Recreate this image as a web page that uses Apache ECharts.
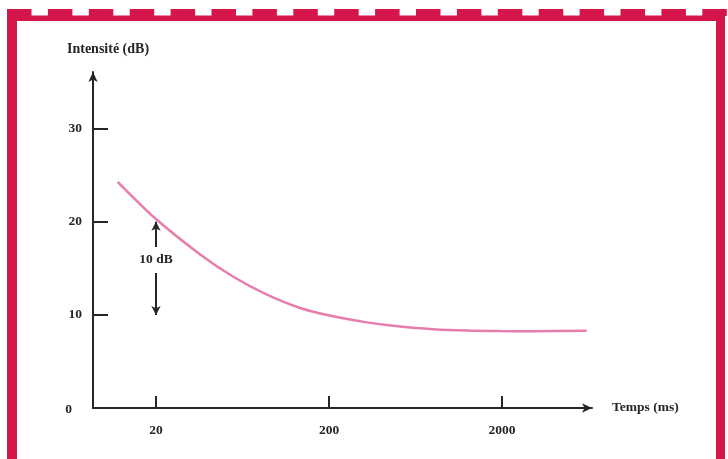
<!DOCTYPE html>
<html>
<head>
<meta charset="utf-8">
<script src="https://cdn.jsdelivr.net/npm/echarts@6/dist/echarts.min.js"></script>
<style>
  html, body { margin: 0; padding: 0; background: #ffffff; }
  #chart { width: 728px; height: 459px; }
</style>
</head>
<body>
<div id="chart"></div>
<script>
// ---- data ----
const timesMs = [12, 20, 36, 56, 87, 136, 211, 330, 515, 800, 1250, 1950, 3020, 6170];
const intensityDb = [24.3, 20.3, 16.5, 14.1, 12.2, 10.75, 9.85, 9.2, 8.75, 8.47, 8.32, 8.26, 8.25, 8.3];
const xTickMs = [20, 200, 2000];
const yTickDb = [10, 20, 30];
const yLabelDb = [0, 10, 20, 30];
const xRangeMs = [8.65, 6620];
const yRangeDb = [0, 36.1];
const spanAtMs = 20;
const spanTopDb = [17.3, 20];
const spanBottomDb = [14.5, 10];
const spanLabelDb = 15.9;
const spanText = '10 dB';
const xName = 'Temps (ms)';
const yName = 'Intensité (dB)';

const lg = v => Math.log10(v);
const font = '"Liberation Serif", "DejaVu Serif", serif';
const ink = '#262626';
const frame = '#D5164B';
const fs = 13.5;

const chart = echarts.init(document.getElementById('chart'), null, { renderer: 'canvas' });

// decorative frame (dashed top edge + side bars)
const frameEls = [
  { type: 'rect', shape: { x: 7, y: 9, width: 10, height: 450 }, style: { fill: frame }, silent: true },
  { type: 'rect', shape: { x: 716, y: 9, width: 9, height: 450 }, style: { fill: frame }, silent: true },
  { type: 'rect', shape: { x: 7, y: 15.5, width: 718, height: 5.5 }, style: { fill: frame }, silent: true }
];
for (let x = 7; x < 716; x += 40.9) {
  frameEls.push({ type: 'rect', shape: { x: x, y: 9, width: 24.5, height: 7 }, style: { fill: frame }, silent: true });
}
frameEls.push({
  type: 'text', left: 67, top: 42,
  style: { text: yName, font: 'bold 14px ' + font, fill: ink }
});

const option = {
  backgroundColor: '#ffffff',
  animation: false,
  graphic: { elements: frameEls },
  grid: { left: 93, right: 136, top: 72, bottom: 51, containLabel: false },
  xAxis: {
    type: 'value',
    min: lg(xRangeMs[0]),
    max: lg(xRangeMs[1]),
    name: xName,
    nameLocation: 'end',
    nameGap: 20,
    nameTextStyle: { fontFamily: font, fontWeight: 'bold', fontSize: 13.5, color: ink, verticalAlign: 'middle', padding: [8, 0, 0, 0] },
    axisLine: { show: true, onZero: false, symbol: ['none', 'arrow'], symbolSize: [7, 10], lineStyle: { color: ink, width: 2 } },
    axisTick: { show: true, inside: true, length: 12, customValues: xTickMs.map(lg), lineStyle: { color: ink, width: 2 } },
    axisLabel: {
      customValues: xTickMs.map(lg),
      formatter: v => String(Math.round(Math.pow(10, v))),
      margin: 16, fontFamily: font, fontWeight: 'bold', fontSize: fs, color: ink
    },
    splitLine: { show: false }
  },
  yAxis: {
    type: 'value',
    min: yRangeDb[0],
    max: yRangeDb[1],
    axisLine: { show: true, onZero: false, symbol: ['none', 'arrow'], symbolSize: [7, 10], lineStyle: { color: ink, width: 2 } },
    axisTick: { show: true, inside: true, length: 15, customValues: yTickDb, lineStyle: { color: ink, width: 2 } },
    axisLabel: {
      customValues: yLabelDb,
      formatter: v => v === 0 ? '{z|0}' : String(v),
      rich: { z: { padding: [4, 10, 0, 0], fontFamily: font, fontWeight: 'bold', fontSize: fs, color: ink } },
      margin: 11, fontFamily: font, fontWeight: 'bold', fontSize: fs, color: ink
    },
    splitLine: { show: false }
  },
  series: [{
    type: 'line',
    data: timesMs.map((t, i) => [lg(t), intensityDb[i]]),
    smooth: 0.3,
    showSymbol: false,
    lineStyle: { color: '#E67DAD', width: 2.5 },
    markLine: {
      silent: true,
      symbol: ['none', 'arrow'],
      symbolSize: [7, 9],
      label: { show: false },
      lineStyle: { color: ink, width: 2, type: 'solid' },
      data: [
        [{ coord: [lg(spanAtMs), spanTopDb[0]] }, { coord: [lg(spanAtMs), spanTopDb[1]] }],
        [{ coord: [lg(spanAtMs), spanBottomDb[0]] }, { coord: [lg(spanAtMs), spanBottomDb[1]] }]
      ]
    },
    markPoint: {
      silent: true,
      symbol: 'circle',
      symbolSize: 1,
      itemStyle: { color: 'rgba(0,0,0,0)' },
      label: { show: true, position: 'inside', formatter: spanText, fontFamily: font, fontWeight: 'bold', fontSize: fs, color: ink },
      data: [{ coord: [lg(spanAtMs), spanLabelDb] }]
    }
  }]
};
chart.setOption(option);
</script>
</body>
</html>
